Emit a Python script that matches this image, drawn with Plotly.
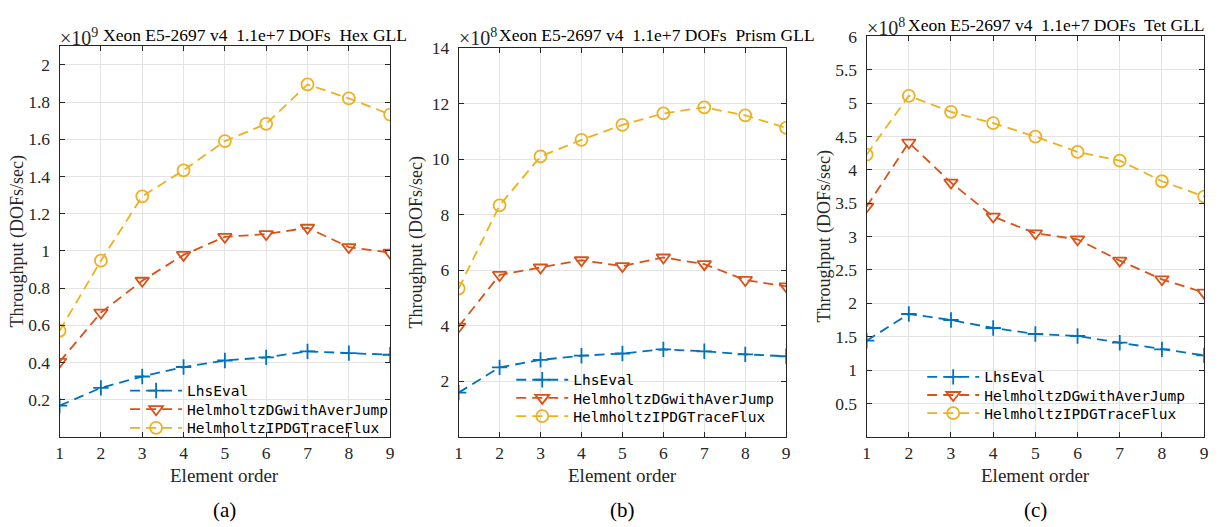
import plotly.graph_objects as go

orders = [1, 2, 3, 4, 5, 6, 7, 8, 9]
series_names = ["LhsEval", "HelmholtzDGwithAverJump", "HelmholtzIPDGTraceFlux"]

# Panel (a) Hex GLL, units of 1e9
hex_lhs = [0.167, 0.263, 0.324, 0.375, 0.41, 0.427, 0.459, 0.45, 0.441]
hex_dg = [0.403, 0.668, 0.839, 0.978, 1.075, 1.09, 1.124, 1.02, 0.99]
hex_ipdg = [0.57, 0.947, 1.293, 1.433, 1.59, 1.683, 1.895, 1.82, 1.733]

# Panel (b) Prism GLL, units of 1e8
prism_lhs = [1.59, 2.5, 2.77, 2.92, 3.0, 3.15, 3.08, 2.97, 2.9]
prism_dg = [3.97, 5.83, 6.1, 6.36, 6.15, 6.46, 6.22, 5.65, 5.42]
prism_ipdg = [5.34, 8.34, 10.1, 10.7, 11.24, 11.65, 11.87, 11.58, 11.13]

# Panel (c) Tet GLL, units of 1e8
tet_lhs = [1.44, 1.84, 1.75, 1.63, 1.54, 1.51, 1.41, 1.31, 1.22]
tet_dg = [3.45, 4.41, 3.81, 3.3, 3.05, 2.96, 2.64, 2.36, 2.16]
tet_ipdg = [4.23, 5.11, 4.87, 4.7, 4.5, 4.27, 4.14, 3.83, 3.6]

hex_yticks = [0.2, 0.4, 0.6, 0.8, 1.0, 1.2, 1.4, 1.6, 1.8, 2.0]
hex_yticktext = ["0.2", "0.4", "0.6", "0.8", "1", "1.2", "1.4", "1.6", "1.8", "2"]
prism_yticks = [2, 4, 6, 8, 10, 12, 14]
prism_yticktext = ["2", "4", "6", "8", "10", "12", "14"]
tet_yticks = [0.5, 1, 1.5, 2, 2.5, 3, 3.5, 4, 4.5, 5, 5.5, 6]
tet_yticktext = ["0.5", "1", "1.5", "2", "2.5", "3", "3.5", "4", "4.5", "5", "5.5", "6"]

titles = ["Xeon E5-2697 v4  1.1e+7 DOFs  Hex GLL",
          "Xeon E5-2697 v4  1.1e+7 DOFs  Prism GLL",
          "Xeon E5-2697 v4  1.1e+7 DOFs  Tet GLL"]
exp_base = "×10"
exp_digits = ["9", "8", "8"]
panel_labels = ["(a)", "(b)", "(c)"]

W, H = 1225, 527
colors = ["#0072BD", "#D95319", "#EDB120"]
symbols = ["cross-thin-open", "triangle-down-open", "circle-open"]
msizes = [11, 12, 12]
SERIF = "Liberation Serif, Times New Roman, serif"
MONO = "DejaVu Sans Mono, monospace"

# pixel geometry
panels = [
    dict(x0=56, x1=389, top=37, data=[hex_lhs, hex_dg, hex_ipdg], yr=[0, 2.1],
         tv=hex_yticks, tt=hex_yticktext, leg_x=122, leg_rows=[388, 407, 426],
         title_x=98, title_y=25, exp_y=28),
    dict(x0=458, x1=788, top=39, data=[prism_lhs, prism_dg, prism_ipdg], yr=[0, 14],
         tv=prism_yticks, tt=prism_yticktext, leg_x=511, leg_rows=[377, 395.5, 414],
         title_x=497, title_y=25, exp_y=28),
    dict(x0=869, x1=1209, top=27, data=[tet_lhs, tet_dg, tet_ipdg], yr=[0, 6],
         tv=tet_yticks, tt=tet_yticktext, leg_x=925, leg_rows=[374, 392.5, 411],
         title_x=909, title_y=15, exp_y=17),
]
bottom = 435

fig = go.Figure()
annotations = []
layout = {}
for i, p in enumerate(panels):
    k = "" if i == 0 else str(i + 1)
    for j in range(3):
        li = i * 3 + j + 1
        lname = "legend" if li == 1 else "legend" + str(li)
        fig.add_trace(go.Scatter(
            x=orders, y=p["data"][j], name=series_names[j],
            mode="lines+markers", showlegend=True,
            line=dict(color=colors[j], width=1.8, dash="10px,6px"),
            marker=dict(symbol=symbols[j], size=msizes[j], color=colors[j],
                        line=dict(color=colors[j], width=1.8)),
            xaxis="x" + k, yaxis="y" + k,
            legend=lname,
        ))
        layout[lname] = dict(x=p["leg_x"] / W, y=1 - p["leg_rows"][j] / H,
                             xanchor="left", yanchor="middle", bgcolor="rgba(0,0,0,0)",
                             borderwidth=0, itemwidth=52,
                             font=dict(family=MONO, size=14.5, color="#000"))
    axcommon = dict(showline=True, linecolor="#262626", linewidth=1, mirror="allticks",
                    ticks="inside", ticklen=5, tickcolor="#262626",
                    showgrid=True, gridcolor="#e3e3e3", gridwidth=1, zeroline=False,
                    tickfont=dict(family=SERIF, size=17.5, color="#262626"))
    layout["xaxis" + k] = dict(domain=[p["x0"] / W, p["x1"] / W], range=[1, 9],
                               tickvals=orders, anchor="y" + k, **axcommon)
    layout["yaxis" + k] = dict(domain=[1 - bottom / H, 1 - p["top"] / H], range=p["yr"],
                               tickvals=p["tv"], ticktext=p["tt"], anchor="x" + k,
                               ticklabelstandoff=5, **axcommon)
    cx = (p["x0"] + p["x1"]) / 2
    annotations.append(dict(text=titles[i], x=p["title_x"] / W, y=1 - p["title_y"] / H,
                            xref="paper", yref="paper", xanchor="left", yanchor="middle",
                            showarrow=False, font=dict(family=SERIF, size=17.5, color="#000")))
    annotations.append(dict(text=exp_base + "<sup>" + exp_digits[i] + "</sup>",
                            x=(p["x0"] - 2) / W, y=1 - p["exp_y"] / H,
                            xref="paper", yref="paper", xanchor="left", yanchor="middle",
                            showarrow=False, font=dict(family=SERIF, size=20, color="#262626")))
    annotations.append(dict(text="Element order", x=cx / W, y=1 - 474 / H,
                            xref="paper", yref="paper", xanchor="center", yanchor="middle",
                            showarrow=False, font=dict(family=SERIF, size=19, color="#262626")))
    annotations.append(dict(text=panel_labels[i], x=cx / W, y=1 - 510 / H,
                            xref="paper", yref="paper", xanchor="center", yanchor="middle",
                            showarrow=False, font=dict(family=SERIF, size=21, color="#000")))
    annotations.append(dict(text="Throughput (DOFs/sec)", x=(p["x0"] - 42) / W,
                            y=1 - ((p["top"] + bottom) / 2) / H,
                            xref="paper", yref="paper", xanchor="center", yanchor="middle",
                            textangle=-90, showarrow=False,
                            font=dict(family=SERIF, size=18, color="#262626")))

fig.update_layout(width=W, height=H, margin=dict(l=0, r=0, t=0, b=0),
                  paper_bgcolor="white", plot_bgcolor="white", showlegend=True,
                  annotations=annotations, **layout)
fig.write_html("out.html")
